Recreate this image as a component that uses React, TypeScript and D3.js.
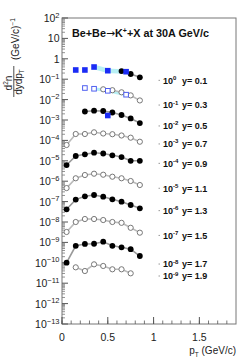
import React from "react";
import * as d3 from "d3";

const W = 249;
const H = 361;
const FONT = "'Liberation Sans', Arial, Helvetica, sans-serif";

// pT bin centres (GeV/c)
const ptBins = [0.05, 0.15, 0.25, 0.35, 0.45, 0.55, 0.65, 0.75, 0.85];

// rapidity slices, scale factor exponent and label position (scaled yield)
const rapidities = ["0.1", "0.3", "0.5", "0.7", "0.9", "1.1", "1.3", "1.5", "1.7", "1.9"];
const scaleExps = [0, -1, -2, -3, -4, -5, -6, -7, -8, -9];
const labelAt = [0.088, 5.4e-3, 5.1e-4, 6.7e-5, 7.5e-6, 4.5e-7, 3.6e-8, 2.2e-9, 8.7e-11, 2.25e-11];

// circles (scaled yields), first pT bin of each slice given in startBin
const startBin = [6, 4, 2, 0, 0, 0, 0, 0, 0, 1];
const filled = [true, false, true, false, true, false, true, false, true, false];
const yields = [
  [0.25, 0.18, 0.124],
  [0.032, 0.0289, 0.0228, 0.0161, 0.0091],
  [2.61e-3, 2.86e-3, 2.76e-3, 2.33e-3, 1.76e-3, 1.19e-3, 7.1e-4],
  [5.96e-5, 2.06e-4, 2.06e-4, 2.49e-4, 2.18e-4, 2.01e-4, 1.74e-4, 1.36e-4, 8.6e-5],
  [6.2e-6, 1.72e-5, 2.08e-5, 2.49e-5, 2.28e-5, 1.86e-5, 1.53e-5, 1.0e-5, 1.0e-5],
  [4.6e-7, 1.39e-6, 2.01e-6, 2.33e-6, 2.08e-6, 1.66e-6, 1.39e-6, 1.02e-6, 6.5e-7],
  [4.2e-8, 1.25e-7, 1.82e-7, 2.11e-7, 1.74e-7, 1.3e-7, 9.9e-8, 6.8e-8, 4.7e-8],
  [3.24e-9, 1.0e-8, 1.4e-8, 1.4e-8, 1.25e-8, 1.0e-8, 9.1e-9, 5.2e-9, 3.0e-9],
  [1.01e-10, 6.8e-10, 8.4e-10, 8.6e-10, 1.08e-9, 6.8e-10, 5.75e-10, 4.65e-10, 2.15e-10],
  [6.0e-11, 3.96e-11, 8.4e-11, 7.0e-11, 4.8e-11, 4.8e-11, 3.05e-11],
];

// blue squares (other measurement)
const bluePt = [0.15, 0.25, 0.35, 0.5, 0.7];
const blueY01 = [0.283, 0.283, 0.396, 0.261, 0.233];
const openPt = [0.25, 0.35, 0.5, 0.7];
const openY03 = [0.037, 0.034, 0.027, 0.0174];
const bluePt05 = [0.5];
const blueY05 = [1.66e-3];

const xTickMajor = [0, 0.5, 1, 1.5];

export default function App() {
  const m = { left: 62, right: 236, top: 18, bottom: 324 };
  const x = d3.scaleLinear().domain([0, 1.9]).range([m.left, m.right]);
  const y = d3.scaleLog().domain([1e-13, 1e2]).range([m.bottom, m.top]);
  const line = d3
    .line<[number, number]>()
    .x((d) => x(d[0]))
    .y((d) => y(d[1]));

  const decades = d3.range(-13, 3);
  const minorY: number[] = [];
  decades.slice(0, -1).forEach((k) => {
    for (let i = 2; i < 10; i++) minorY.push(i * Math.pow(10, k));
  });
  const minorX = d3.range(0, 19).map((i) => i / 10);

  const series = yields.map((vals, s) =>
    vals.map((v, i) => [ptBins[startBin[s] + i], v] as [number, number])
  );
  const zip = (a: number[], b: number[]) => a.map((v, i) => [v, b[i]] as [number, number]);
  const blue01 = zip(bluePt, blueY01);
  const open03 = zip(openPt, openY03);
  const blue05 = zip(bluePt05, blueY05);
  const sq = 5.6;

  const yLabel = (k: number) => {
    if (k === 0) return <tspan>1</tspan>;
    if (k === 1) return <tspan>10</tspan>;
    return (
      <>
        <tspan>10</tspan>
        <tspan dy={-4.5} fontSize={7.5}>
          {k < 0 ? "\u2212" + -k : String(k)}
        </tspan>
      </>
    );
  };

  return (
    <svg
      width={W}
      height={H}
      style={{ position: "absolute", left: 0, top: 0, background: "#fff" }}
      fontFamily={FONT}
    >
      {/* frame */}
      <rect
        x={m.left}
        y={m.top}
        width={m.right - m.left}
        height={m.bottom - m.top}
        fill="none"
        stroke="#777"
        strokeWidth={1}
      />

      {/* y ticks */}
      {decades.map((k) => (
        <line key={"yM" + k} x1={m.left} x2={m.left + 6} y1={y(Math.pow(10, k))} y2={y(Math.pow(10, k))} stroke="#555" />
      ))}
      {minorY.map((v, i) => (
        <line key={"ym" + i} x1={m.left} x2={m.left + 3} y1={y(v)} y2={y(v)} stroke="#777" strokeWidth={0.8} />
      ))}
      {decades.map((k) => (
        <text key={"yl" + k} x={59.5} y={y(Math.pow(10, k)) + 4} textAnchor="end" fontSize={10.5} fill="#222">
          {yLabel(k)}
        </text>
      ))}

      {/* x ticks */}
      {minorX.map((v, i) => (
        <line key={"xm" + i} x1={x(v)} x2={x(v)} y1={m.bottom} y2={m.bottom - 3.5} stroke="#555" strokeWidth={0.8} />
      ))}
      {xTickMajor.map((v) => (
        <line key={"xM" + v} x1={x(v)} x2={x(v)} y1={m.bottom} y2={m.bottom - 7} stroke="#555" />
      ))}
      {xTickMajor.map((v) => (
        <text key={"xl" + v} x={x(v)} y={341} textAnchor="middle" fontSize={10.5} fill="#222">
          {String(v)}
        </text>
      ))}

      {/* axis titles */}
      <text x={236} y={354} textAnchor="end" fontSize={10} fill="#222">
        p<tspan dy={2.5} fontSize={6.5}>T</tspan>
        <tspan dy={-2.5}> (GeV/c)</tspan>
      </text>
      <g transform="translate(22,97) rotate(-90)" fill="#222">
        <text x={14} y={-10.5} textAnchor="middle" fontSize={10}>
          d<tspan dy={-4} fontSize={6.5}>2</tspan>
          <tspan dy={4}>n</tspan>
        </text>
        <line x1={0} x2={31} y1={-8.2} y2={-8.2} stroke="#222" strokeWidth={0.8} />
        <text x={15} y={-0.5} textAnchor="middle" fontSize={10}>
          dydp<tspan dy={2.5} fontSize={6.5}>T</tspan>
        </text>
        <text x={37} y={-3} fontSize={10}>
          (GeV/c)<tspan dy={-4} fontSize={6.5}>{"\u22121"}</tspan>
        </text>
      </g>

      {/* title */}
      <text x={72} y={37} fontSize={10.8} fontWeight="bold" fill="#111">
        Be+Be<tspan fontFamily="'DejaVu Sans', sans-serif" fontWeight="normal">{"\u2192"}</tspan>K
        <tspan dy={-4} fontSize={7}>+</tspan>
        <tspan dy={4}>+X at 30A GeV/c</tspan>
      </text>

      {/* cyan bands for the square measurement */}
      <path d={line(blue01.slice(2)) || ""} fill="none" stroke="#b8f0f4" strokeWidth={4.5} />
      <path d={line(open03.slice(1)) || ""} fill="none" stroke="#b8f0f4" strokeWidth={3} />

      {/* connecting lines */}
      {series.map((pts, s) => (
        <path key={"ln" + s} d={line(pts) || ""} fill="none" stroke={filled[s] ? "#999" : "#bbb"} strokeWidth={1.6} />
      ))}

      {/* circles */}
      {series.map((pts, s) =>
        pts.map((d, i) => (
          <circle
            key={"c" + s + "-" + i}
            cx={x(d[0])}
            cy={y(d[1])}
            r={filled[s] ? 2.9 : 2.6}
            fill={filled[s] ? "#000" : "#fff"}
            stroke={filled[s] ? "#000" : "#777"}
            strokeWidth={filled[s] ? 0 : 1}
          />
        ))
      )}

      {/* squares */}
      {blue01.concat(blue05).map((d, i) => (
        <rect key={"bs" + i} x={x(d[0]) - sq / 2} y={y(d[1]) - sq / 2} width={sq} height={sq} fill="#1b2cf5" />
      ))}
      {open03.map((d, i) => (
        <rect
          key={"os" + i}
          x={x(d[0]) - sq / 2 + 0.5}
          y={y(d[1]) - sq / 2 + 0.5}
          width={sq - 1}
          height={sq - 1}
          fill="#fff"
          stroke="#5060f0"
          strokeWidth={1}
        />
      ))}

      {/* slice labels */}
      {rapidities.map((r, s) => {
        const yy = y(labelAt[s]);
        return (
          <g key={"lab" + s} fontWeight="bold" fontSize={9} fill="#111">
            <line x1={158.5} x2={160} y1={yy} y2={yy} stroke="#999" strokeWidth={1} />
            <text x={163} y={yy + 3.3}>
              10<tspan dy={-3.8} fontSize={6}>{scaleExps[s] < 0 ? "-" + -scaleExps[s] : String(scaleExps[s])}</tspan>
            </text>
            <text x={182} y={yy + 3.3}>
              y= {r}
            </text>
          </g>
        );
      })}
    </svg>
  );
}
